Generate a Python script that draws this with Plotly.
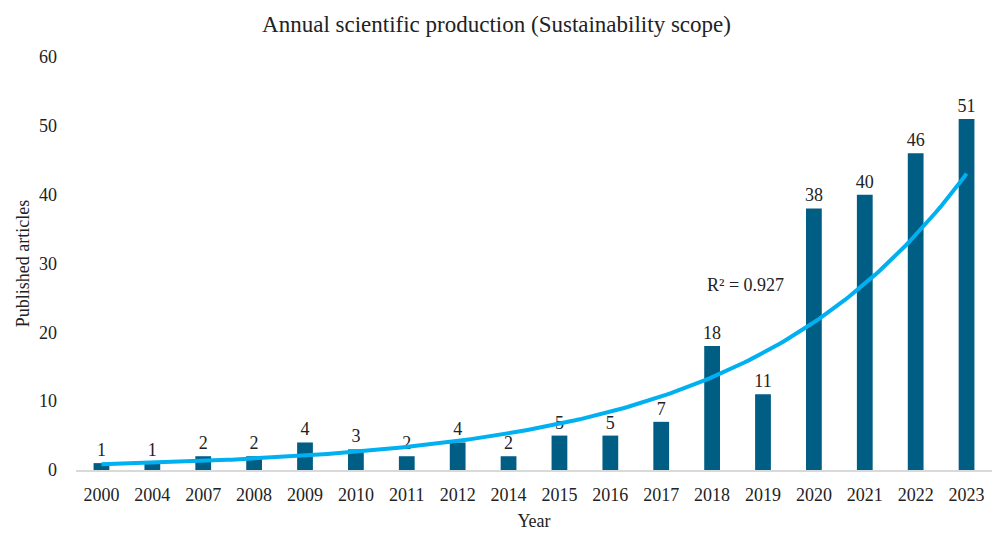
import numpy as np
import plotly.graph_objects as go

years = ["2000", "2004", "2007", "2008", "2009", "2010", "2011", "2012", "2014",
         "2015", "2016", "2017", "2018", "2019", "2020", "2021", "2022", "2023"]
articles = [1, 1, 2, 2, 4, 3, 2, 4, 2, 5, 5, 7, 18, 11, 38, 40, 46, 51]
r2_label = "R² = 0.927"

xi = np.arange(len(years))
# Excel-style exponential trendline fitted to the data (on position 1..n)
b, ln_a = np.polyfit(xi + 1, np.log(articles), 1)
xs = np.linspace(0, len(years) - 1, 200)
trend = np.exp(ln_a) * np.exp(b * (xs + 1))

FONT = "Palatino Linotype, Book Antiqua, Liberation Serif, serif"
TXT = "#222222"

fig = go.Figure()
fig.add_trace(go.Bar(
    x=xi, y=articles, width=0.31,
    marker=dict(color="#005E84", line=dict(width=0)),
    text=[str(v) for v in articles], textposition="outside",
    constraintext="none",
    textfont=dict(family=FONT, size=18, color=TXT),
    cliponaxis=False, showlegend=False,
))
fig.add_trace(go.Scatter(
    x=xs, y=trend, mode="lines",
    line=dict(color="#00B0F0", width=4), showlegend=False,
))
fig.add_annotation(x=12.65, y=26.9, text=r2_label, showarrow=False,
                   font=dict(family=FONT, size=18, color=TXT))

fig.update_layout(
    width=993, height=533,
    margin=dict(l=76, r=1, t=57, b=63),
    paper_bgcolor="white", plot_bgcolor="white",
    font=dict(family=FONT, size=18, color=TXT),
    title=dict(text="Annual scientific production (Sustainability scope)",
               x=0.5, xanchor="center", y=0.955, yanchor="middle",
               font=dict(family=FONT, size=23, color=TXT)),
    bargap=0.69,
)
fig.update_xaxes(
    tickmode="array", tickvals=list(xi), ticktext=years,
    range=[-0.5, len(years) - 0.5],
    showgrid=False, zeroline=False,
    showline=True, linecolor="#D9D9D9", linewidth=1.5,
    ticks="", ticklabelstandoff=8,
    title=dict(text="Year", font=dict(family=FONT, size=18), standoff=10),
)
fig.update_yaxes(
    range=[0, 60], dtick=10, showgrid=False, zeroline=False, showline=False,
    ticks="", ticklabelstandoff=18,
    title=dict(text="Published articles", font=dict(family=FONT, size=18), standoff=4),
)
fig.write_html("out.html")
